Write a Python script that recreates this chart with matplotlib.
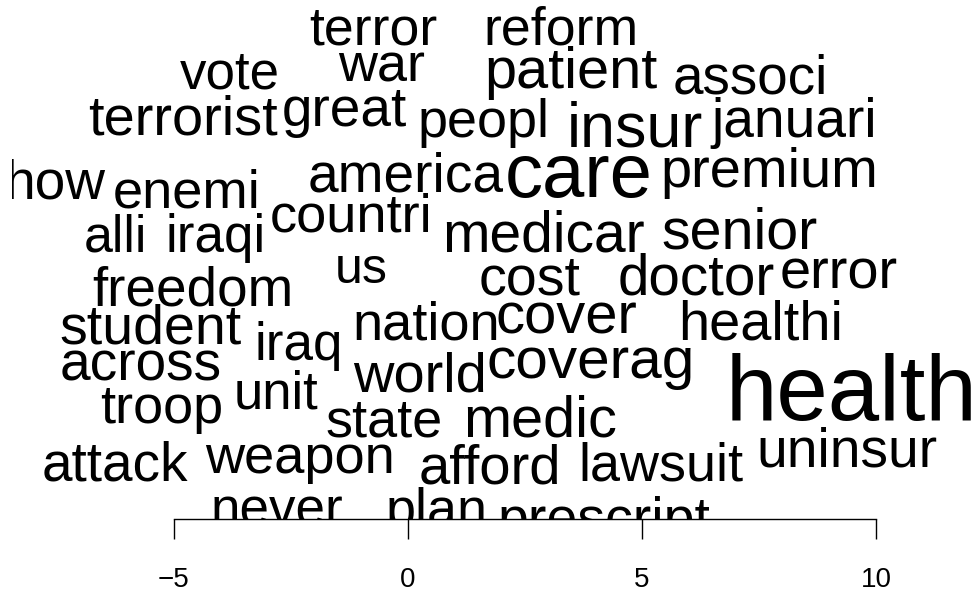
import matplotlib
matplotlib.use('Agg')
import matplotlib.pyplot as plt

# word positions (x on the axis scale, y = baseline height) and font sizes (pt)
words = [
    'terror', 'reform', 'vote', 'war', 'patient', 'associ',
    'terrorist', 'great', 'peopl', 'insur', 'januari',
    'how', 'enemi', 'america', 'care', 'premium',
    'alli', 'iraqi', 'countri', 'medicar', 'senior',
    'us', 'freedom', 'cost', 'doctor', 'error',
    'student', 'iraq', 'nation', 'cover', 'healthi',
    'across', 'world', 'coverag', 'health',
    'troop', 'unit', 'state', 'medic',
    'attack', 'weapon', 'afford', 'lawsuit', 'uninsur',
    'never', 'plan', 'prescript',
]
x_pos = [
    -0.73, 3.26, -3.80, -0.57, 3.49, 7.32,
    -4.81, -1.36, 1.62, 4.85, 8.26,
    -7.55, -4.74, -0.06, 3.65, 7.71,
    -6.26, -4.12, -1.21, 2.90, 7.09,
    -0.99, -4.60, 2.59, 6.16, 9.21,
    -5.49, -2.33, 0.38, 3.38, 7.53,
    -5.71, 0.26, 3.91, 9.47,
    -5.27, -2.83, -0.52, 2.82,
    -6.26, -2.31, 1.75, 5.40, 9.38,
    -2.79, 0.60, 4.18,
]
y_pos = [
    5.45, 5.45, 4.52, 4.66, 4.53, 4.42,
    3.53, 3.72, 3.48, 3.28, 3.48,
    2.16, 1.97, 2.31, 2.21, 2.42,
    1.03, 1.03, 1.46, 1.03, 1.10,
    0.36, -0.11, 0.11, 0.11, 0.25,
    -0.93, -1.28, -0.85, -0.71, -0.85,
    -1.71, -1.96, -1.67, -2.56,
    -2.63, -2.31, -2.92, -2.92,
    -3.85, -3.70, -3.92, -3.85, -3.56,
    -4.81, -4.83, -5.04,
]
sizes = [
    38.6, 38.6, 38.1, 38.9, 41.5, 39.4,
    40.3, 39.5, 38.9, 45.2, 39.6,
    39.6, 39.2, 39.6, 54.7, 40.3,
    37.4, 38.2, 39.1, 41.0, 41.3,
    36.0, 39.5, 40.0, 40.7, 40.3,
    40.0, 38.2, 39.1, 41.8, 40.3,
    39.6, 40.3, 42.1, 66.6,
    38.9, 37.9, 38.9, 41.5,
    39.4, 39.1, 40.5, 38.9, 39.6,
    38.2, 38.9, 40.0,
]
x_ticks = [-5, 0, 5, 10]

plt.rcParams['font.family'] = ['Liberation Sans', 'DejaVu Sans']

fig = plt.figure(figsize=(9.8, 5.94), dpi=100)
ax = fig.add_axes([12 / 980, 75 / 594, 968 / 980, 519 / 594])
ax.set_xlim(-8.46, 12.22)
ax.set_ylim(-4.68, 6.41)

# words are clipped to the plot region like in the original
for w, x, y, s in zip(words, x_pos, y_pos, sizes):
    ax.text(x, y, w, fontsize=s, ha='center', va='baseline',
            color='black', clip_on=True)

for side in ['top', 'left', 'right']:
    ax.spines[side].set_visible(False)
ax.spines['bottom'].set_bounds(x_ticks[0], x_ticks[-1])
ax.spines['bottom'].set_linewidth(1.0)
ax.set_yticks([])
ax.set_xticks(x_ticks)
ax.tick_params(axis='x', direction='out', length=14.4, width=1.0,
               pad=20, labelsize=20)
ax.patch.set_visible(False)

fig.savefig('out.png', dpi=100)
